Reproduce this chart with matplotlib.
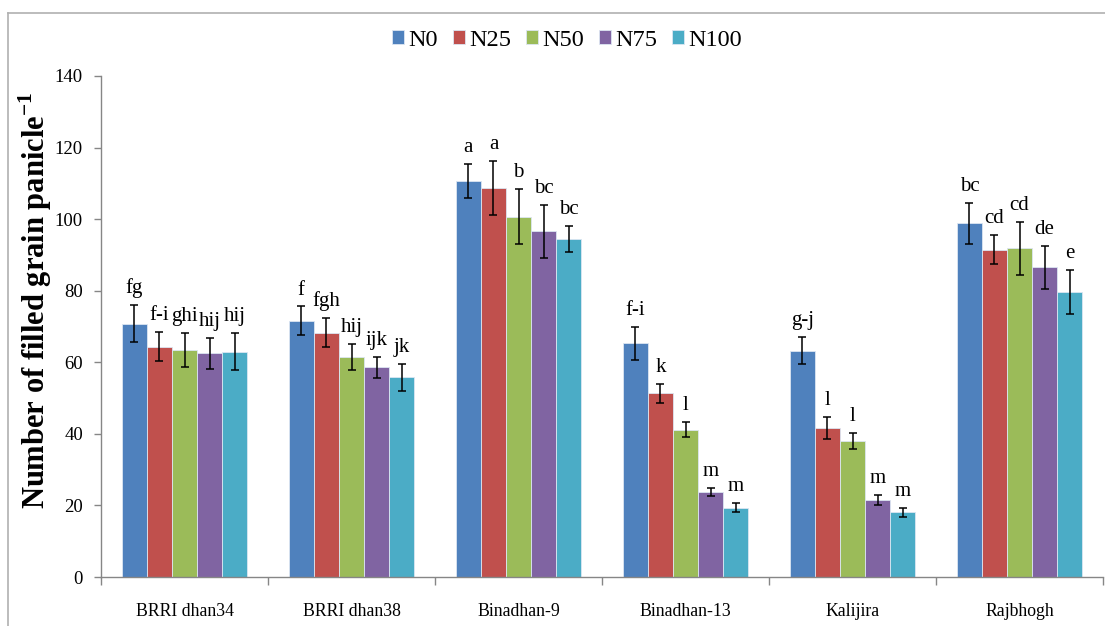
import matplotlib
matplotlib.use("Agg")
import matplotlib.pyplot as plt
import numpy as np
from matplotlib.lines import Line2D

plt.rcParams['font.family'] = ['Liberation Serif', 'DejaVu Serif']
plt.rcParams['mathtext.fontset'] = 'custom'
plt.rcParams['mathtext.rm'] = 'Liberation Serif'
plt.rcParams['mathtext.bf'] = 'Liberation Serif:bold'

categories = ["BRRI dhan34", "BRRI dhan38", "Binadhan-9", "Binadhan-13", "Kalijira", "Rajbhogh"]
series = ["N0", "N25", "N50", "N75", "N100"]
colors = ["#4F81BD", "#C0504D", "#9BBB59", "#8064A2", "#4BACC6"]

N0 = [70.8, 71.6, 110.7, 65.3, 63.2, 98.8]
N25 = [64.4, 68.3, 108.7, 51.3, 41.6, 91.5]
N50 = [63.5, 61.5, 100.7, 41.1, 38.0, 91.8]
N75 = [62.5, 58.6, 96.6, 23.7, 21.6, 86.5]
N100 = [63.0, 55.8, 94.4, 19.4, 18.1, 79.6]

N0_err = [5.2, 4.0, 4.7, 4.7, 3.8, 5.8]
N25_err = [4.1, 4.1, 7.5, 2.7, 3.0, 4.1]
N50_err = [4.7, 3.6, 7.7, 2.1, 2.3, 7.3]
N75_err = [4.3, 3.0, 7.4, 1.2, 1.4, 6.0]
N100_err = [5.2, 3.8, 3.7, 1.3, 1.3, 6.1]

N0_lbl = ["fg", "f", "a", "f-i", "g-j", "bc"]
N25_lbl = ["f-i", "fgh", "a", "k", "l", "cd"]
N50_lbl = ["ghi", "hij", "b", "l", "l", "cd"]
N75_lbl = ["hij", "ijk", "bc", "m", "m", "de"]
N100_lbl = ["hij", "jk", "bc", "m", "m", "e"]

values = [N0, N25, N50, N75, N100]
errors = [N0_err, N25_err, N50_err, N75_err, N100_err]
labels = [N0_lbl, N25_lbl, N50_lbl, N75_lbl, N100_lbl]

fig = plt.figure(figsize=(11.05, 6.26), dpi=100)
ax = fig.add_axes([101/1105, 49/626, 1002/1105, 501/626])

x = np.arange(len(categories))
width = 0.15
axis_gray = "#868686"
for i, (s, v, e, lb, c) in enumerate(zip(series, values, errors, labels, colors)):
    pos = x + (i - 2) * width
    ax.bar(pos, v, width, color=c, edgecolor="#DCE6F2", linewidth=0.6, label=s, zorder=2)
    ax.errorbar(pos, v, yerr=e, fmt="none", ecolor="black", elinewidth=1.1,
                capsize=3.2, capthick=1.1, zorder=3)
    for xp, vv, ee, t in zip(pos, v, e, lb):
        ax.annotate(t, (xp, vv + ee), xytext=(0, 5), textcoords="offset points",
                    ha="center", va="bottom", fontsize=15, zorder=4)

ax.set_xlim(-0.5, len(categories) - 0.5)
ax.set_ylim(0, 140)
ax.set_yticks(np.arange(0, 141, 20))
ax.set_xticks(x)
ax.set_xticklabels(categories, fontsize=12.8)
ax.tick_params(axis="x", length=0, pad=19)
ax.set_xticks(np.arange(-0.5, len(categories), 1.0), minor=True)
ax.tick_params(axis="x", which="minor", length=6, color=axis_gray, width=1)
ax.tick_params(axis="y", labelsize=13.5, length=5, color=axis_gray, width=1, pad=8)
for sp in ["top", "right"]:
    ax.spines[sp].set_visible(False)
for sp in ["left", "bottom"]:
    ax.spines[sp].set_color(axis_gray)
    ax.spines[sp].set_linewidth(1)

ax.set_ylabel(r"Number of filled grain panicle$^{\mathbf{-1}}$", fontsize=22, fontweight="bold")
ax.yaxis.set_label_coords(-0.047, 0.553)

leg = fig.legend(loc="center", bbox_to_anchor=(567/1105, 1 - 40/626), ncol=5, frameon=False,
                 fontsize=17.5, handlelength=0.5, handleheight=0.5, handletextpad=0.18,
                 columnspacing=0.6)

# chart area border (top and left visible)
fig.add_artist(Line2D([8/1105, 8/1105], [0, 1 - 13/626], transform=fig.transFigure,
                      color="#B0B0B0", linewidth=1.2))
fig.add_artist(Line2D([8/1105, 1], [1 - 13/626, 1 - 13/626], transform=fig.transFigure,
                      color="#B0B0B0", linewidth=1.2))

fig.savefig("out.png", dpi=100)
